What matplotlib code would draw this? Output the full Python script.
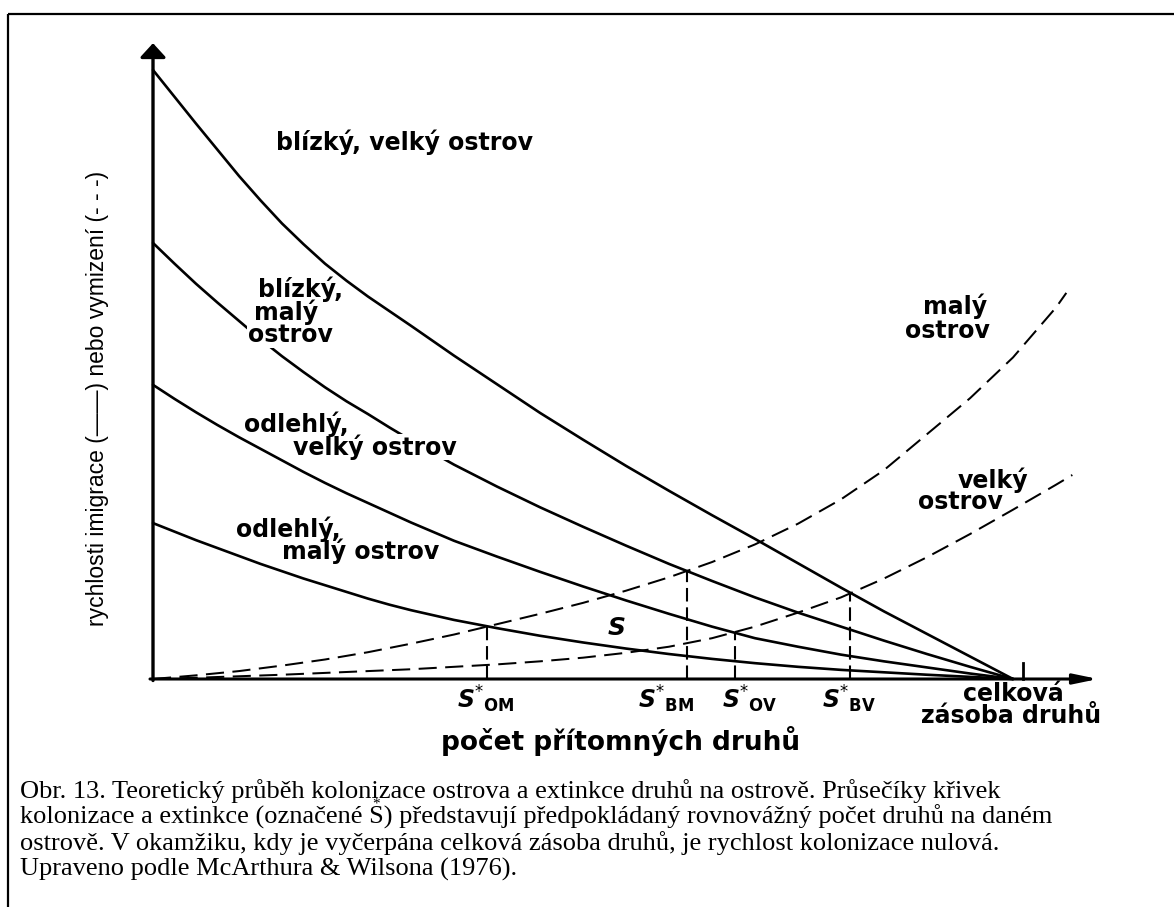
import matplotlib
matplotlib.use("Agg")
import matplotlib.pyplot as plt
from matplotlib.patches import Rectangle

plt.rcParams['mathtext.fontset'] = 'dejavusans'

# ---------------- data (rates vs. number of species; 100 = total species pool) -------------
species_fine = [0, 2.5, 5, 7.5, 10, 12.5, 15, 17.5, 20, 22.5, 25, 27.5, 30, 35, 40, 45, 50,
                55, 60, 65, 70, 75, 80, 85, 90, 95, 100]

# immigration curves (solid)
imm_near_large = [100, 95.6, 91.2, 86.9, 82.6, 78.6, 74.8, 71.4, 68.2, 65.4, 62.8, 60.4, 58.0,
                  53.1, 48.4, 43.7, 39.3, 35.0, 30.9, 26.9, 23.0, 19.0, 15.0, 11.1, 7.4, 3.7, 0]
imm_near_small = [71.6, 68.2, 64.9, 61.8, 58.8, 55.8, 53.0, 50.4, 47.9, 45.6, 43.5, 41.3, 39.2,
                  35.2, 31.6, 28.2, 25.0, 21.9, 18.9, 16.1, 13.4, 10.9, 8.6, 6.3, 4.1, 2.0, 0]
imm_far_large = [48.3, 46.0, 43.8, 41.7, 39.7, 37.8, 35.9, 34.0, 32.2, 30.5, 28.9, 27.3, 25.7,
                 22.7, 20.1, 17.6, 15.2, 12.9, 10.7, 8.6, 6.7, 5.3, 4.0, 2.9, 1.9, 0.9, 0]
imm_far_small = [25.6, 24.2, 22.8, 21.5, 20.2, 18.9, 17.7, 16.5, 15.4, 14.3, 13.2, 12.2, 11.3,
                 9.7, 8.35, 7.1, 6.0, 5.0, 4.1, 3.3, 2.6, 2.0, 1.5, 1.1, 0.7, 0.35, 0]

# extinction curves (dashed)
ext_x = [0, 5, 10, 15, 20, 25, 30, 35, 40, 45, 50, 55, 60, 65, 70, 75, 80, 85, 90, 95, 100, 105]
ext_small_x = ext_x + [106.2]
ext_small = [0, 0.6, 1.3, 2.2, 3.2, 4.4, 5.8, 7.3, 9.0, 10.7, 12.5, 14.5, 16.7, 19.2, 22.1,
             25.5, 29.5, 34.3, 40.2, 46.1, 52.8, 61.0, 63.4]
ext_large_x = ext_x + [106.9]
ext_large = [0, 0.2, 0.45, 0.7, 1.0, 1.3, 1.6, 2.0, 2.4, 2.9, 3.5, 4.3, 5.3, 6.7, 8.6, 10.9,
             13.4, 16.5, 20.0, 23.8, 27.8, 31.9, 33.5]

# equilibria S*
eq_labels = ["OM", "BM", "OV", "BV"]
eq_species = [38.8, 62.1, 67.7, 81.0]
eq_rates = [8.65, 17.7, 7.65, 14.1]

pool_mark = 101.2

caption_lines = [
    "Obr. 13. Teoretický průběh kolonizace ostrova a extinkce druhů na ostrově. Průsečíky křivek",
    "kolonizace a extinkce (označené S) představují předpokládaný rovnovážný počet druhů na daném",
    "ostrově. V okamžiku, kdy je vyčerpána celková zásoba druhů, je rychlost kolonizace nulová.",
    "Upraveno podle McArthura & Wilsona (1976).",
]

# ---------------- figure ----------------
W, H = 1174, 907
fig = plt.figure(figsize=(W / 100, H / 100), dpi=100)
fig.patch.set_facecolor('white')

# main axes: species 0 -> x px 153, 100 -> 1013; rate 0 -> y px 679
x0px, sx = 153.0, 8.6
y0px, sy = 679.0, 6.09
ax = fig.add_axes([0, 0, 1, 1])
ax.set_xlim(-x0px / sx, (W - x0px) / sx)
ax.set_ylim(-(H - y0px) / sy, y0px / sy)
ax.axis('off')

# overlay axes in pixel coordinates for text and frame
ov = fig.add_axes([0, 0, 1, 1], zorder=3)
ov.set_xlim(0, W)
ov.set_ylim(H, 0)
ov.axis('off')
ov.patch.set_alpha(0)

solid_kw = dict(color='black', lw=1.9, solid_capstyle='round', solid_joinstyle='round')
for ys in (imm_near_large, imm_near_small, imm_far_large, imm_far_small):
    ax.plot(species_fine, ys, **solid_kw)

dash_kw = dict(color='black', lw=1.45, linestyle=(0, (9, 4.2)))
ax.plot(ext_small_x, ext_small, **dash_kw)
ax.plot(ext_large_x, ext_large, **dash_kw)

ax.vlines(eq_species, 0, eq_rates, colors='black', lw=1.5, linestyles=[(0, (6.5, 2.8))])

# axes with arrows
ax.annotate('', xy=(0, 104.4), xytext=(0, -0.25),
            arrowprops=dict(arrowstyle='-|>,head_length=0.85,head_width=0.78', mutation_scale=10,
                            lw=2.4, color='black', shrinkA=0, shrinkB=0))
ax.annotate('', xy=(109.9, 0), xytext=(-0.35, 0),
            arrowprops=dict(arrowstyle='-|>,head_length=1.45,head_width=0.3', mutation_scale=10,
                            lw=2.2, color='black', shrinkA=0, shrinkB=0))
ax.plot([pool_mark, pool_mark], [0, 2.6], color='black', lw=2.0)

# ---------------- labels ----------------
lab = dict(family='DejaVu Sans', weight='bold', fontsize=17, color='black', va='center', ha='center')
white = dict(facecolor='white', edgecolor='none', pad=0.5)

ov.text(405, 142, "blízký, velký ostrov", **lab)
ov.text(301, 289, "blízký,", zorder=4, **lab)
ov.text(286, 312, "malý", zorder=4, **lab)
ov.text(290, 335, "ostrov", bbox=white, zorder=3, **lab)
ov.text(296, 424, "odlehlý,", zorder=4, **lab)
ov.text(375, 447, "velký ostrov", bbox=white, zorder=3, **lab)
ov.text(288, 529, "odlehlý,", **lab)
ov.text(361, 551, "malý ostrov", **lab)
ov.text(955, 306, "malý", **lab)
ov.text(947, 331, "ostrov", **lab)
ov.text(993, 480, "velký", **lab)
ov.text(960, 502, "ostrov", **lab)
ov.text(1013, 694, "celková", **lab)
ov.text(1011, 716, "zásoba druhů", **lab)
ov.text(621, 741, "počet přítomných druhů", family='DejaVu Sans', weight='bold', fontsize=19,
        ha='center', va='center')
ov.text(616, 628, "$\\mathbfit{S}$", fontsize=18, ha='center', va='center')

eq_label_left = [457, 638, 722, 822]
for name, xl in zip(eq_labels, eq_label_left):
    ov.text(xl, 708, "$\\mathbfit{S}^{*}{}_{\\mathbf{%s}}$" % name, fontsize=17,
            ha='left', va='baseline')

ov.text(98, 398, "rychlosti imigrace (——) nebo vymizení (- - -)",
        family=['Liberation Sans', 'DejaVu Sans'], fontsize=16.5,
        rotation=90, ha='center', va='center')

# caption
cap_x = 20
cap_y = [798, 824, 850, 876]
cap_kw = dict(family='Liberation Serif', fontsize=19, ha='left', va='baseline')
for s, y in zip(caption_lines, cap_y):
    ov.text(cap_x, y, s, **cap_kw)

# star above the "S" in the caption's second line
renderer = fig.canvas.get_renderer()
prefix = caption_lines[1].split("S)")[0] + "S"
tmp = ov.text(cap_x, cap_y[1], prefix, **cap_kw)
bb = tmp.get_window_extent(renderer)
tmp2 = ov.text(cap_x, cap_y[1], "S", **cap_kw)
bs = tmp2.get_window_extent(renderer)
tmp.remove()
tmp2.remove()
ov.text(cap_x + (bb.x1 - bb.x0) - (bs.x1 - bs.x0) / 2, cap_y[1] - 16, "*",
        family='Liberation Serif', fontsize=11, ha='center', va='baseline')

# frame (only top and left edges fall inside the picture)
ov.add_patch(Rectangle((8, 14), 1300, 1000, fill=False, lw=1.6, edgecolor='black'))

fig.savefig("out.png", dpi=100, facecolor='white')
